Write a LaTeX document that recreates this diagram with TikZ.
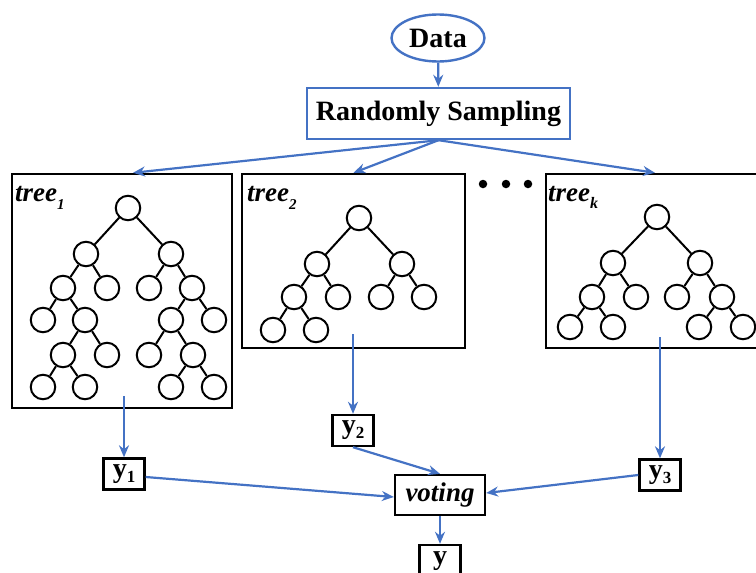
\documentclass[tikz,border=0pt]{standalone}
\usepackage{fontspec}
\setmainfont{Liberation Serif}
\usetikzlibrary{arrows.meta,shapes.geometric}
\definecolor{myblue}{RGB}{68,114,196}
\begin{document}
\begin{tikzpicture}[x=1pt,y=-1pt,
  bigfont/.style={font=\fontsize{28}{30}\selectfont\bfseries},
  datanode/.style={ellipse,draw=myblue,line width=2.4pt,minimum width=93pt,minimum height=47pt,inner sep=0pt,bigfont},
  samplebox/.style={rectangle,draw=myblue,line width=2.4pt,minimum width=263pt,minimum height=51pt,inner sep=0pt,bigfont},
  treebox/.style={rectangle,draw=black,line width=2.4pt,inner sep=0pt},
  circ/.style={circle,draw=black,fill=white,line width=2pt,minimum size=24.5pt,inner sep=0pt},
  branch/.style={draw=black,line width=2pt},
  lblbox/.style={rectangle,draw=black,line width=2.4pt,minimum width=41pt,minimum height=31pt,inner sep=0pt,bigfont},
  votebox/.style={rectangle,draw=black,line width=2.4pt,minimum width=90pt,minimum height=40pt,inner sep=0pt,font=\fontsize{27}{30}\selectfont\bfseries\itshape},
  treelbl/.style={anchor=base west,inner sep=0pt,font=\fontsize{27}{30}\selectfont\bfseries\itshape},
  dotnode/.style={circle,fill=black,minimum size=8.5pt,inner sep=0pt},
  arr/.style={draw=myblue,line width=2.2pt,-{Stealth[length=12pt,width=10pt]}}
]
\useasboundingbox (0,0) rectangle (756,573);
\clip (0,0) rectangle (756,573);

% top
\node[datanode] (data) at (438,38) {Data};
\node[samplebox] (rs) at (438.5,113.5) {Randomly Sampling};
\draw[arr] (data) -- (rs);

% tree boxes
\node[treebox,minimum width=220pt,minimum height=234pt] (t1) at (122,291) {};
\node[treebox,minimum width=223pt,minimum height=174pt] (t2) at (353.5,261) {};
\node[treebox,minimum width=234pt,minimum height=174pt] (tk) at (663,261) {};

\node[treelbl] (l1) at (15,201) {tree\raisebox{-8pt}{\fontsize{15}{15}\selectfont 1}};
\node[treelbl] (l2) at (247,201) {tree\raisebox{-8pt}{\fontsize{15}{15}\selectfont 2}};
\node[treelbl] (lk) at (548,201) {tree\raisebox{-7pt}{\fontsize{16}{16}\selectfont k}};

% dots
\node[dotnode] (d1) at (483,184) {};
\node[dotnode] (d2) at (506,184) {};
\node[dotnode] (d3) at (528,184) {};

% arrows to trees
\draw[arr] (rs.south) -- ([xshift=11pt]t1.north);
\draw[arr] (rs.south) -- (t2.north);
\draw[arr] (rs.south) -- ([xshift=-8pt]tk.north);

% tree 1
\node[circ] (a1) at (128,208) {};
\node[circ] (a2) at (86,254) {};
\node[circ] (a3) at (171,254) {};
\node[circ] (a4) at (63,288) {};
\node[circ] (a5) at (107,288) {};
\node[circ] (a6) at (149,288) {};
\node[circ] (a7) at (192,288) {};
\node[circ] (a8) at (43,320) {};
\node[circ] (a9) at (85,320) {};
\node[circ] (a10) at (171,320) {};
\node[circ] (a11) at (214,320) {};
\node[circ] (a12) at (63,355) {};
\node[circ] (a13) at (107,355) {};
\node[circ] (a14) at (149,355) {};
\node[circ] (a15) at (193,355) {};
\node[circ] (a16) at (43,387) {};
\node[circ] (a17) at (85,387) {};
\node[circ] (a18) at (171,387) {};
\node[circ] (a19) at (214,387) {};
\draw[branch] (a1)--(a2) (a1)--(a3) (a2)--(a4) (a2)--(a5) (a3)--(a6) (a3)--(a7)
  (a4)--(a8) (a4)--(a9) (a7)--(a10) (a7)--(a11) (a9)--(a12) (a9)--(a13)
  (a10)--(a14) (a10)--(a15) (a12)--(a16) (a12)--(a17) (a15)--(a18) (a15)--(a19);

% tree 2
\node[circ] (b1) at (359,218) {};
\node[circ] (b2) at (317,264) {};
\node[circ] (b3) at (402,264) {};
\node[circ] (b4) at (294,297) {};
\node[circ] (b5) at (338,297) {};
\node[circ] (b6) at (381,297) {};
\node[circ] (b7) at (424,297) {};
\node[circ] (b8) at (273,330) {};
\node[circ] (b9) at (316,330) {};
\draw[branch] (b1)--(b2) (b1)--(b3) (b2)--(b4) (b2)--(b5) (b3)--(b6) (b3)--(b7)
  (b4)--(b8) (b4)--(b9);

% tree k
\node[circ] (c1) at (657,217) {};
\node[circ] (c2) at (613,263) {};
\node[circ] (c3) at (700,263) {};
\node[circ] (c4) at (592,297) {};
\node[circ] (c5) at (636,297) {};
\node[circ] (c6) at (677,297) {};
\node[circ] (c7) at (722,297) {};
\node[circ] (c8) at (570,327) {};
\node[circ] (c9) at (613,327) {};
\node[circ] (c10) at (699,327) {};
\node[circ] (c11) at (743,327) {};
\draw[branch] (c1)--(c2) (c1)--(c3) (c2)--(c4) (c2)--(c5) (c3)--(c6) (c3)--(c7)
  (c4)--(c8) (c4)--(c9) (c7)--(c10) (c7)--(c11);

% outputs
\node[lblbox] (y1) at (124,474) {y\raisebox{-5pt}{\fontsize{17}{17}\selectfont 1}};
\node[lblbox] (y2) at (353,430.5) {y\raisebox{-5pt}{\fontsize{17}{17}\selectfont 2}};
\node[lblbox] (y3) at (660,475) {y\raisebox{-5pt}{\fontsize{17}{17}\selectfont 3}};
\node[votebox] (vote) at (440,495) {voting};
\node[lblbox,minimum height=32pt] (yy) at (440,561) {y};

\draw[arr] ([yshift=13pt]t1.south -| y1) -- (y1);
\draw[arr] ([yshift=15pt]t2.south -| y2) -- (y2);
\draw[arr] ([yshift=12pt]tk.south -| y3) -- (y3);
\draw[arr] ([yshift=-3pt]y1.east) -- ([yshift=-2pt]vote.west);
\draw[arr] (y2.south) -- (vote.north);
\draw[arr] (y3.west) -- ([yshift=2pt]vote.east);
\draw[arr] (vote.south) -- (yy.north);
\end{tikzpicture}
\end{document}
